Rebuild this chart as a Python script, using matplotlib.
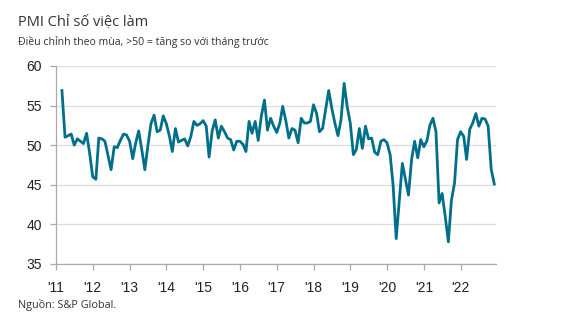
import pandas as pd
import matplotlib.pyplot as plt
import matplotlib.dates as mdates

# ── Data: PMI employment index, monthly from Mar 2011 ────────────────────────
START_MONTH = "2011-03-01"
employment = [
    56.9, 51.0, 51.2, 51.4, 50.0, 50.8, 50.5, 50.2, 51.5, 49.0,
    46.0, 45.7, 50.9, 50.8, 50.5, 48.7, 46.9, 49.8, 49.7, 50.6,
    51.4, 51.3, 50.5, 48.3, 50.2, 51.8, 49.5, 46.9, 49.9, 52.7,
    53.8, 51.7, 51.9, 53.7, 52.7, 51.1, 49.2, 52.1, 50.4, 50.6,
    50.8, 49.9, 51.1, 53.0, 52.5, 52.7, 53.1, 52.4, 48.5, 51.8,
    53.2, 50.9, 52.4, 51.7, 50.9, 50.7, 49.4, 50.5, 50.5, 50.1,
    49.2, 53.0, 51.5, 53.0, 50.6, 53.7, 55.7, 51.9, 53.4, 52.4,
    51.6, 52.8, 54.9, 53.1, 50.9, 52.1, 51.9, 50.3, 53.4, 52.8,
    52.8, 53.0, 55.1, 54.0, 51.7, 52.1, 54.5, 56.9, 54.7, 52.8,
    51.2, 53.2, 57.8, 54.9, 52.8, 48.8, 49.4, 52.1, 49.6, 52.4,
    50.8, 50.9, 49.1, 48.8, 50.5, 50.7, 50.3, 48.8, 45.0, 38.2,
    42.8, 47.7, 45.7, 43.7, 48.2, 50.5, 48.4, 50.7, 49.8, 50.6,
    52.5, 53.4, 51.7, 42.7, 43.9, 41.0, 37.8, 43.0, 45.2, 50.7,
    51.7, 51.1, 48.2, 52.0, 52.8, 54.0, 52.4, 53.4, 53.3, 52.4,
    46.9, 45.1,
]
y_ticks = [35, 40, 45, 50, 55, 60]

months = pd.date_range(START_MONTH, periods=len(employment), freq="MS")

# ── Plot ──────────────────────────────────────────────────────────────────────
fig = plt.figure(figsize=(5.69, 3.25), dpi=100)
ax = fig.add_axes([0.0984, 0.1877, 0.7733, 0.6093])

ax.plot(months, employment, color="#006F89", linewidth=2.0, solid_joinstyle="round")

ax.set_ylim(35, 60)
ax.set_yticks(y_ticks)
ax.set_xlim(pd.Timestamp("2011-01-01"), pd.Timestamp("2022-12-18"))
ax.xaxis.set_major_locator(mdates.YearLocator())
ax.xaxis.set_major_formatter(mdates.DateFormatter("'%y"))

ax.grid(axis="y", color="#dddddd", linewidth=0.9)
ax.set_axisbelow(True)
for side in ("top", "right"):
    ax.spines[side].set_visible(False)
for side in ("left", "bottom"):
    ax.spines[side].set_color("#aaaaaa")
    ax.spines[side].set_linewidth(0.9)

ax.tick_params(axis="both", colors="#aaaaaa", length=4, width=0.9,
               labelsize=10, labelcolor="#222222")
ax.tick_params(axis="x", pad=8)
ax.tick_params(axis="y", pad=6)
for lbl in ax.get_xticklabels() + ax.get_yticklabels():
    lbl.set_family("Liberation Sans")

fig.text(0.032, 0.931, "PMI Chỉ số việc làm", fontsize=10.5,
         family="Open Sans", color="#333333", va="center")
fig.text(0.032, 0.870, "Điều chỉnh theo mùa, >50 = tăng so với tháng trước",
         fontsize=7.6, family="Open Sans", color="#333333", va="center")
fig.text(0.032, 0.062, "Nguồn: S&P Global.", fontsize=7.8,
         family="Open Sans", color="#333333", va="center")

fig.savefig("out.png", dpi=100)
